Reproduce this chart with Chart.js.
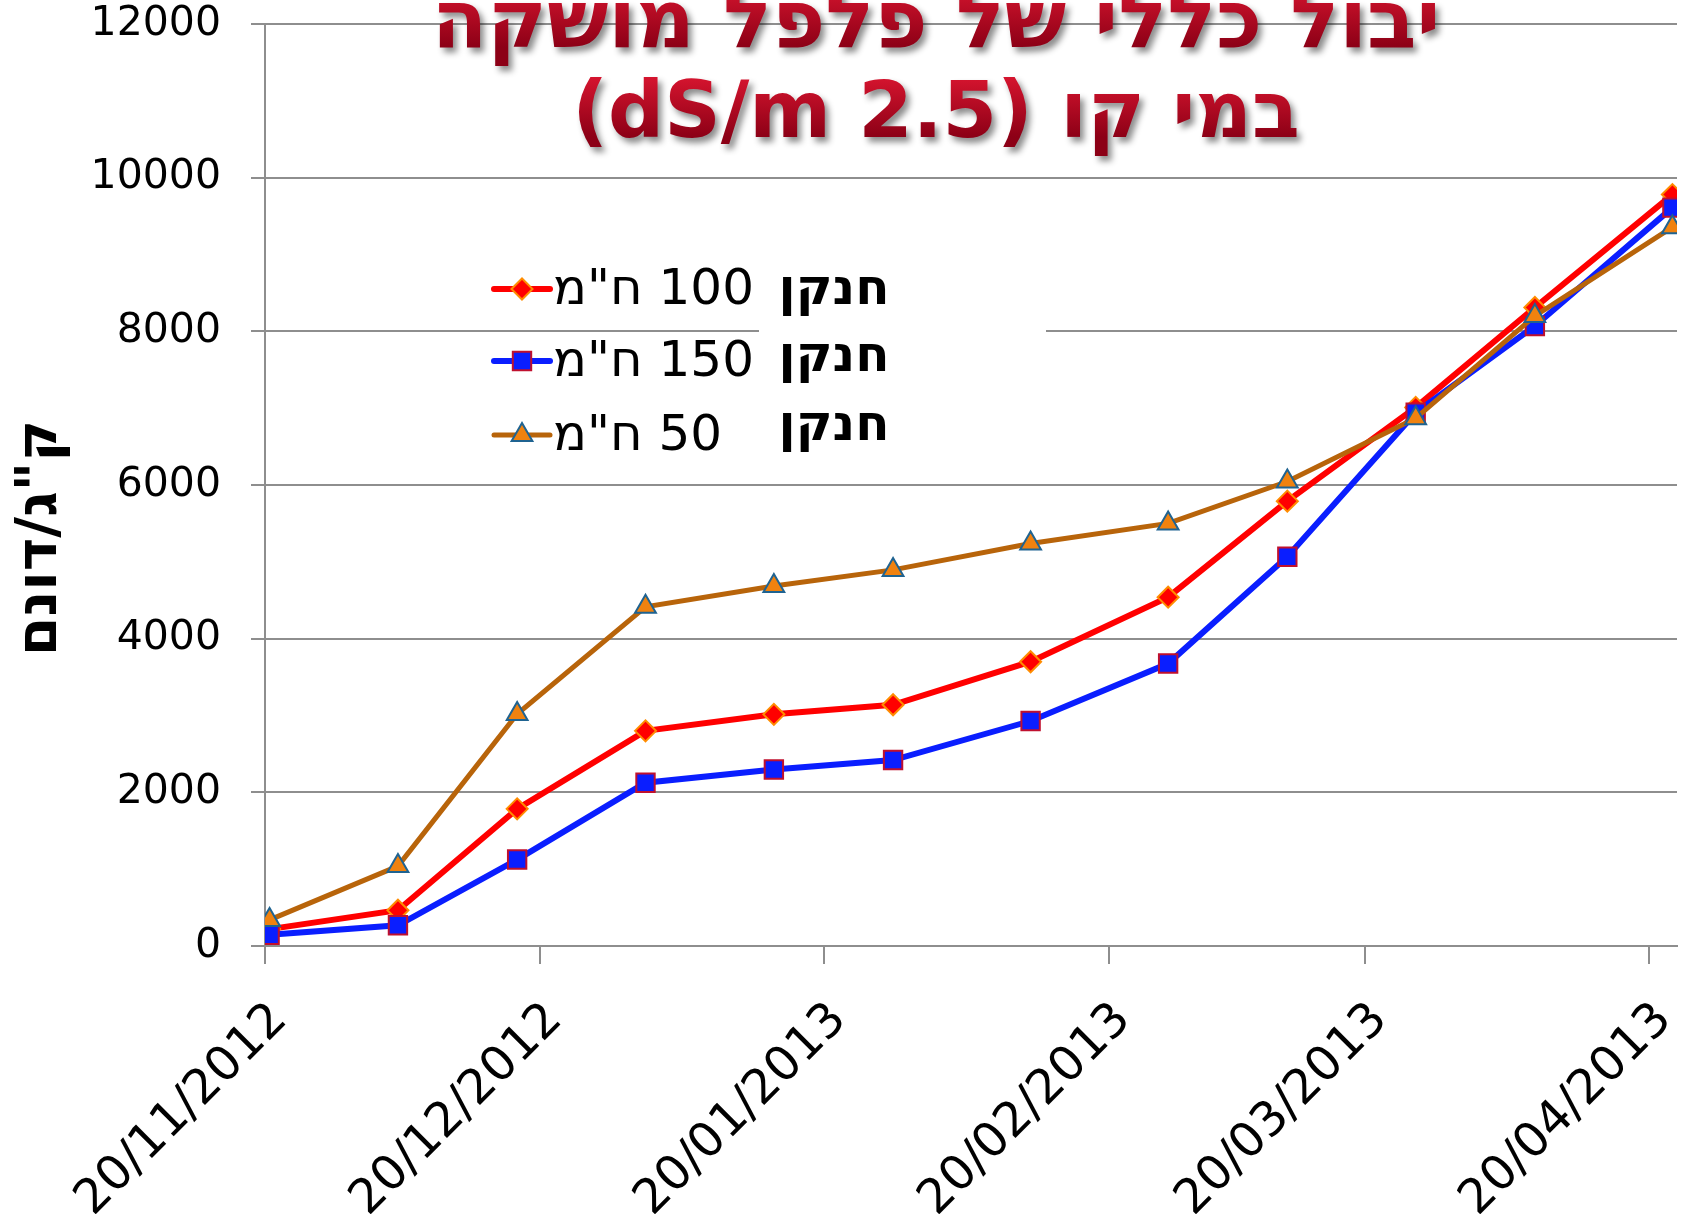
<!DOCTYPE html>
<html>
<head>
<meta charset="utf-8">
<script src="https://cdn.jsdelivr.net/npm/chart.js@4.4.1/dist/chart.umd.min.js"></script>
<style>
html, body { margin: 0; padding: 0; background: #fff; }
canvas { display: block; }
</style>
</head>
<body>
<canvas id="yieldChart" width="1692" height="1214"></canvas>
<script>
// harvest dates and cumulative yield (kg/dunam) per nitrogen level
const startDate = '2012-11-20';
const harvestDates = ['2012-11-20', '2012-12-04', '2012-12-17', '2012-12-31', '2013-01-14', '2013-01-27',
                      '2013-02-11', '2013-02-26', '2013-03-11', '2013-03-25', '2013-04-07', '2013-04-22'];
const nitrogen100 = [220, 465, 1785, 2800, 3015, 3140, 3700, 4540, 5790, 7010, 8310, 9780];
const nitrogen150 = [145, 270, 1125, 2125, 2298, 2420, 2928, 3676, 5067, 6940, 8070, 9610];
const nitrogen50  = [340, 1040, 3020, 4415, 4685, 4895, 5238, 5500, 6045, 6870, 8200, 9355];
const seriesNames = ['100 ח"מ', '150 ח"מ', '50 ח"מ'];
const legendWord = 'חנקן';

const tickDates = ['2012-11-20', '2012-12-20', '2013-01-20', '2013-02-20', '2013-03-20', '2013-04-20'];
const tickLabels = ['20/11/2012', '20/12/2012', '20/01/2013', '20/02/2013', '20/03/2013', '20/04/2013'];
const axisEndDate = '2013-04-23';
const yMax = 12000, yStep = 2000;

const titleLines = ['יבול כללי של פלפל מושקה', 'במי קו (2.5 dS/m)'];
const yTitle = 'ק"ג/דונם';

function dayOf(s) {
    const p = s.split('-').map(Number);
    const q = startDate.split('-').map(Number);
    return (Date.UTC(p[0], p[1] - 1, p[2]) - Date.UTC(q[0], q[1] - 1, q[2])) / 86400000;
}
const tickDays = tickDates.map(dayOf);

function points(values) {
    // a date sits in the middle of its day slot
    return values.map((v, i) => ({ x: dayOf(harvestDates[i]) + 0.5, y: v }));
}

const FONT = '"DejaVu Sans", Verdana, sans-serif';

const overlay = {
    id: 'overlay',
    afterDraw(chart) {
        const ctx = chart.ctx;

        // legend: line + marker + label
        const rows = [289, 361, 435];
        chart.data.datasets.forEach((ds, i) => {
            const y = rows[i];
            ctx.save();
            ctx.strokeStyle = ds.borderColor;
            ctx.lineWidth = ds.borderWidth;
            ctx.lineCap = 'round';
            ctx.beginPath();
            ctx.moveTo(494, y);
            ctx.lineTo(550, y);
            ctx.stroke();
            ctx.fillStyle = ds.pointBackgroundColor;
            ctx.strokeStyle = ds.pointBorderColor;
            ctx.lineWidth = ds.pointBorderWidth;
            Chart.helpers.drawPoint(ctx, {
                pointStyle: ds.pointStyle, radius: ds.pointRadius,
                borderWidth: ds.pointBorderWidth, rotation: 0
            }, 522, y);
            ctx.fillStyle = '#000';
            ctx.font = '50px ' + FONT;
            ctx.direction = 'rtl';
            ctx.textAlign = 'left';
            ctx.textBaseline = 'middle';
            ctx.fillText(ds.label, 553, y + 2);
            ctx.restore();
        });

        // white text box with the bold word
        ctx.save();
        ctx.fillStyle = '#fff';
        ctx.fillRect(759, 250, 287, 210);
        ctx.fillStyle = '#000';
        ctx.font = 'bold 50px ' + FONT;
        ctx.direction = 'rtl';
        ctx.textAlign = 'center';
        ctx.textBaseline = 'middle';
        [289, 356, 425].forEach(y => ctx.fillText(legendWord, 834, y + 2));
        ctx.restore();

        // y axis title
        ctx.save();
        ctx.translate(41, 538);
        ctx.rotate(-Math.PI / 2);
        ctx.fillStyle = '#000';
        ctx.font = 'bold 57px ' + FONT;
        ctx.direction = 'rtl';
        ctx.textAlign = 'center';
        ctx.textBaseline = 'middle';
        ctx.fillText(yTitle, 0, 0);
        ctx.restore();

        // chart title, red with a shadow
        const targets = [{ w: 1009, base: 47 }, { w: 728, base: 137 }];
        titleLines.forEach((line, i) => {
            const t = targets[i];
            ctx.save();
            ctx.font = 'bold 80px ' + FONT;
            ctx.direction = 'rtl';
            const size = 80 * t.w / ctx.measureText(line).width;
            ctx.font = 'bold ' + size.toFixed(1) + 'px ' + FONT;
            ctx.textAlign = 'center';
            ctx.textBaseline = 'alphabetic';
            const g = ctx.createLinearGradient(0, t.base - size * 0.75, 0, t.base);
            g.addColorStop(0, '#D4142E');
            g.addColorStop(1, '#8C0016');
            ctx.fillStyle = g;
            ctx.shadowColor = 'rgba(0,0,0,0.45)';
            ctx.shadowBlur = 6;
            ctx.shadowOffsetX = 4;
            ctx.shadowOffsetY = 5;
            ctx.fillText(line, 936, t.base);
            ctx.restore();
        });
    }
};

const gridGray = '#8e8e8e';

const config = {
    type: 'line',
    data: {
        datasets: [{
            label: seriesNames[0],
            data: points(nitrogen100),
            borderColor: '#ff0000',
            borderWidth: 6,
            pointStyle: 'rectRot',
            pointRadius: 10.5,
            pointBackgroundColor: '#ff0000',
            pointBorderColor: '#ff8c00',
            pointBorderWidth: 2,
            order: 3
        }, {
            label: seriesNames[1],
            data: points(nitrogen150),
            borderColor: '#0a1eff',
            borderWidth: 6,
            pointStyle: 'rect',
            pointRadius: 13,
            pointBackgroundColor: '#0a1eff',
            pointBorderColor: '#c0102e',
            pointBorderWidth: 2,
            order: 2
        }, {
            label: seriesNames[2],
            data: points(nitrogen50),
            borderColor: '#b8640a',
            borderWidth: 5,
            pointStyle: 'triangle',
            pointRadius: 12,
            pointBackgroundColor: '#f0820f',
            pointBorderColor: '#1f6391',
            pointBorderWidth: 2,
            order: 1
        }]
    },
    options: {
        responsive: false,
        animation: false,
        events: [],
        layout: { padding: { top: 24, right: 12, left: 0, bottom: 0 } },
        elements: { line: { tension: 0 } },
        plugins: { legend: { display: false }, tooltip: { enabled: false } },
        scales: {
            x: {
                type: 'linear',
                min: 0,
                max: dayOf(axisEndDate),
                afterBuildTicks: (scale) => { scale.ticks = tickDays.map(v => ({ value: v })); },
                afterFit: (scale) => {
                    scale.height = 268;
                    scale.paddingLeft = 0;
                    scale.paddingRight = 0;
                },
                grid: { drawOnChartArea: false, color: gridGray, lineWidth: 2, tickLength: 18 },
                border: { color: gridGray, width: 2 },
                ticks: {
                    autoSkip: false,
                    maxRotation: 45,
                    minRotation: 45,
                    padding: 28,
                    labelOffset: 15,
                    color: '#000',
                    font: { family: FONT, size: 48 },
                    callback: (v) => tickLabels[tickDays.indexOf(v)]
                }
            },
            y: {
                min: 0,
                max: yMax,
                afterFit: (scale) => {
                    scale.width = 265;
                    scale.paddingTop = 0;
                    scale.paddingBottom = 0;
                },
                grid: { color: gridGray, lineWidth: 2, tickLength: 14 },
                border: { color: gridGray, width: 2 },
                ticks: {
                    stepSize: yStep,
                    padding: 30,
                    color: '#000',
                    font: { family: FONT, size: 41 },
                    callback: (v) => String(v)
                }
            }
        }
    },
    plugins: [overlay]
};

new Chart(document.getElementById('yieldChart'), config);
</script>
</body>
</html>
